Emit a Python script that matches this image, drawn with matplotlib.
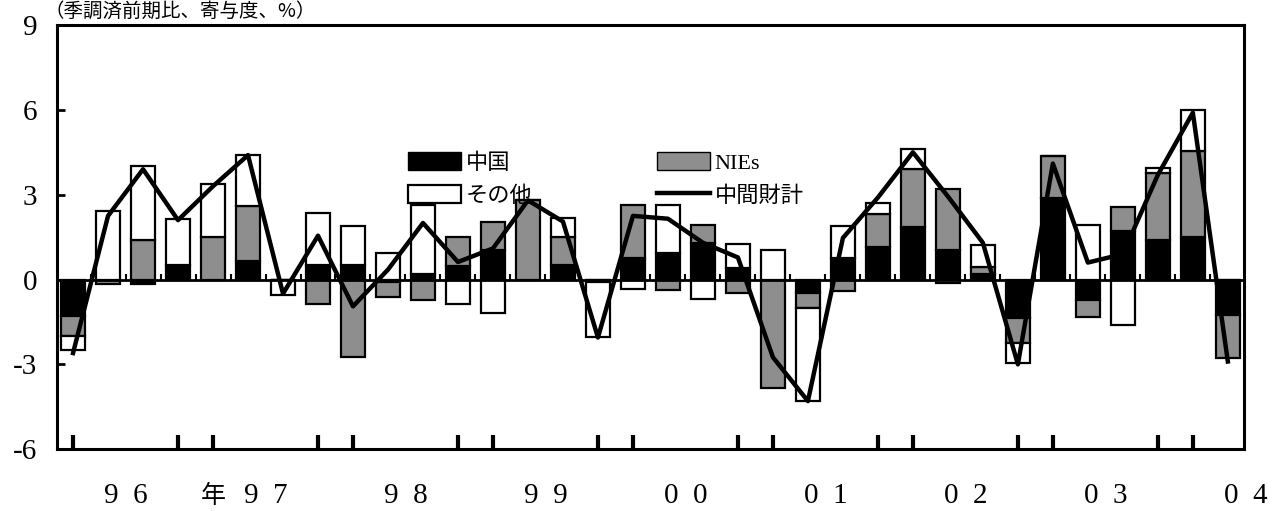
import numpy as np
import matplotlib
matplotlib.use("Agg")
import matplotlib.pyplot as plt
from matplotlib.patches import Patch
from matplotlib.lines import Line2D

plt.rcParams['font.family'] = ['Liberation Serif', 'Noto Sans CJK JP', 'DejaVu Sans']
plt.rcParams['axes.unicode_minus'] = False

# 四半期 1996Q1 - 2004Q2 (寄与度, %)
china = [-1.29, 0.0, -0.15, 0.53, 0.0, 0.64, 0.0, 0.53, 0.50, -0.10,
         0.20, 0.47, 1.05, 0.0, 0.53, -0.10, 0.76, 0.94, 1.29, 0.41,
         0.0, -0.47, 0.76, 1.15, 1.85, 1.03, 0.21, -1.37, 2.90, -0.73,
         1.73, 1.38, 1.50, -1.25]
nies = [-0.70, -0.15, 1.40, 0.0, 1.52, 1.96, 0.0, -0.85, -2.75, -0.52,
        -0.74, 1.02, 1.00, 2.80, 0.97, 0.0, 1.89, -0.38, 0.65, -0.47,
        -3.82, -0.53, -0.41, 1.17, 2.05, 2.16, 0.23, -0.88, 1.46, -0.58,
        0.84, 2.40, 3.06, -1.52]
other = [-0.52, 2.42, 2.63, 1.60, 1.87, 1.79, -0.55, 1.81, 1.40, 0.94,
         2.43, -0.88, -1.17, 0.0, 0.69, -1.95, -0.35, 1.68, -0.70, 0.85,
         1.06, -3.30, 1.12, 0.37, 0.70, -0.14, 0.79, -0.70, 0.0, 1.93,
         -1.60, 0.17, 1.44, 0.0]
total = [-2.6, 2.25, 3.9, 2.1, 3.3, 4.4, -0.5, 1.55, -0.95, 0.35,
         2.0, 0.62, 1.1, 2.8, 2.05, -2.05, 2.25, 2.15, 1.3, 0.78,
         -2.75, -4.3, 1.47, 2.9, 4.5, 2.94, 1.3, -3.0, 4.1, 0.6,
         0.9, 3.7, 5.9, -2.9]
years = ['9  6', '9  7', '9  8', '9  9', '0  0', '0  1', '0  2', '0  3', '0  4']

series = [(china, 'black'), (nies, '#8e8e8e'), (other, 'white')]
n = len(total)
x = np.arange(n)

fig = plt.figure(figsize=(12.74, 5.11), dpi=100)
ax = fig.add_axes([0.0447, 0.121, 0.9317, 0.830])

pos_bottom = np.zeros(n)
neg_bottom = np.zeros(n)
for vals, col in series:
    v = np.array(vals)
    bottom = np.where(v >= 0, pos_bottom, neg_bottom)
    ax.bar(x, v, 0.7, bottom=bottom, color=col, edgecolor='black', linewidth=1.6, zorder=2)
    pos_bottom += np.where(v > 0, v, 0)
    neg_bottom += np.where(v < 0, v, 0)

ax.plot(x, total, color='black', linewidth=3.2, zorder=3)

ax.axhline(0, color='black', linewidth=2, zorder=2.5)
# small marks on the zero line between quarters
ax.vlines(x[:-1] + 0.5, 0, 0.2, color='black', linewidth=1.5, zorder=2.5)

ax.set_xlim(-0.46, n - 0.54)
ax.set_ylim(-6, 9)
ax.set_yticks(np.arange(-6, 10, 3))
ax.set_yticklabels([str(v) for v in range(-6, 10, 3)], fontsize=21)
ax.tick_params(axis='y', direction='in', length=6, width=2, pad=14)

# year boundary marks (Q1 and Q4)
tick_pos = [i for i in x if i % 4 in (0, 3)]
ax.set_xticks(tick_pos)
ax.set_xticklabels([])
ax.tick_params(axis='x', direction='in', length=10, width=3)

for k, lab in enumerate(years):
    ax.text(1.5 + 4 * k, -7.65, lab, ha='center', va='center', fontsize=21, clip_on=False)
ax.text(4.0, -7.65, '年', ha='center', va='center', fontsize=18,
        family=['Noto Sans CJK JP'], clip_on=False)

for sp in ax.spines.values():
    sp.set_linewidth(2.2)

handles = [Patch(facecolor='black', edgecolor='black'),
           Patch(facecolor='white', edgecolor='black', linewidth=1.6),
           Patch(facecolor='#8e8e8e', edgecolor='black'),
           Line2D([0], [0], color='black', linewidth=3.2)]
labels = ['中国', 'その他', 'NIEs', '中間財計']
ax.legend(handles, labels, ncol=2, loc='upper left', bbox_to_anchor=(408 / 1274, 1 - 152 / 511),
          bbox_transform=fig.transFigure, frameon=False, fontsize=16, handlelength=2.4,
          handleheight=0.9, handletextpad=0.2, columnspacing=5.6, labelspacing=0.5,
          borderpad=0, borderaxespad=0)

fig.text(45 / 1274, 1 - 1 / 511, '（季調済前期比、寄与度、%）', ha='left', va='top', fontsize=14,
         family=['Noto Sans CJK JP'])

fig.savefig('out.png', dpi=100)
